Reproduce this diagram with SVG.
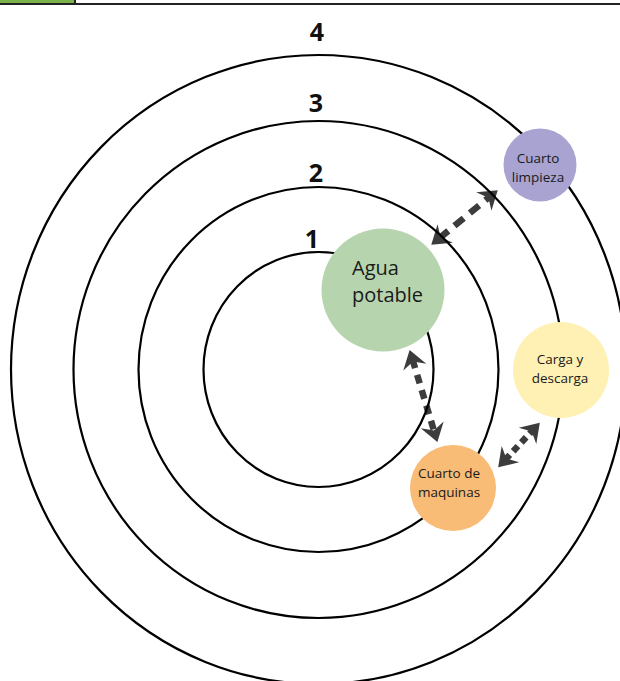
<svg xmlns="http://www.w3.org/2000/svg" width="620" height="681" viewBox="0 0 620 681">
<defs>
<style>
.ring{fill:none;stroke:#000;stroke-width:2.2}
.num{font-family:"Open Sans","Liberation Sans",sans-serif;font-weight:700;font-size:25px;fill:#111;text-anchor:middle}
.lbl{font-family:"Open Sans","Liberation Sans",sans-serif;fill:#1a1a1a;text-anchor:middle}
.big{font-size:20px;text-anchor:start}
.small{font-size:13.5px}
.arr{fill:none;stroke:#3c3c3c;stroke-width:6.5;marker-start:url(#head);marker-end:url(#head)}
</style>
<marker id="head" viewBox="-20 -13 22 26" markerWidth="22" markerHeight="26" refX="-10" refY="0" orient="auto-start-reverse" markerUnits="userSpaceOnUse">
<path d="M0,0 L-18,-12 L-12,0 L-18,12 Z" fill="#3c3c3c"/>
</marker>
</defs>
<rect width="620" height="681" fill="#fff"/>
<g id="header">
<rect x="0" y="0" width="75" height="3" fill="#7bb24a"/>
<line x1="0" y1="4" x2="620" y2="4" stroke="#222" stroke-width="2"/>
<line x1="75" y1="0" x2="75" y2="4" stroke="#222" stroke-width="2"/>
</g>
<g id="connectors">
<path class="arr" d="M439,238.5 L490,196.5" style="stroke-dasharray:12 8"/>
<path class="arr" d="M412.5,359.5 L434.5,432.5" style="stroke-dasharray:9 7"/>
<path class="arr" d="M505,460 L533,430" style="stroke-dasharray:7 5"/>
</g>
<g id="rings">
<ellipse class="ring" cx="318.5" cy="369.5" rx="115" ry="117.5"/>
<ellipse class="ring" cx="318.5" cy="369.5" rx="180" ry="182.5"/>
<ellipse class="ring" cx="318.5" cy="369.5" rx="245" ry="248.5"/>
<ellipse class="ring" cx="318.5" cy="369.5" rx="307.5" ry="314.5"/>
<text class="num" x="317" y="41">4</text>
<text class="num" x="316" y="112">3</text>
<text class="num" x="316" y="182">2</text>
<text class="num" x="312" y="248">1</text>
</g>
<g id="agua-potable">
<circle cx="383" cy="290" r="61.5" fill="#b6d5ae"/>
<text class="lbl big" x="352" y="275">Agua</text>
<text class="lbl big" x="352" y="302">potable</text>
</g>
<g id="cuarto-limpieza">
<circle cx="540" cy="165" r="36.5" fill="#a8a3d1"/>
<text class="lbl small" x="538" y="163">Cuarto</text>
<text class="lbl small" x="538" y="182">limpieza</text>
</g>
<g id="carga-descarga">
<circle cx="561" cy="370" r="48" fill="#fff0b4"/>
<text class="lbl small" x="560" y="364">Carga y</text>
<text class="lbl small" x="560" y="383">descarga</text>
</g>
<g id="cuarto-maquinas">
<circle cx="453" cy="488" r="43" fill="#f9bc76"/>
<text class="lbl small" x="449" y="478">Cuarto de</text>
<text class="lbl small" x="449" y="497">maquinas</text>
</g>
</svg>
